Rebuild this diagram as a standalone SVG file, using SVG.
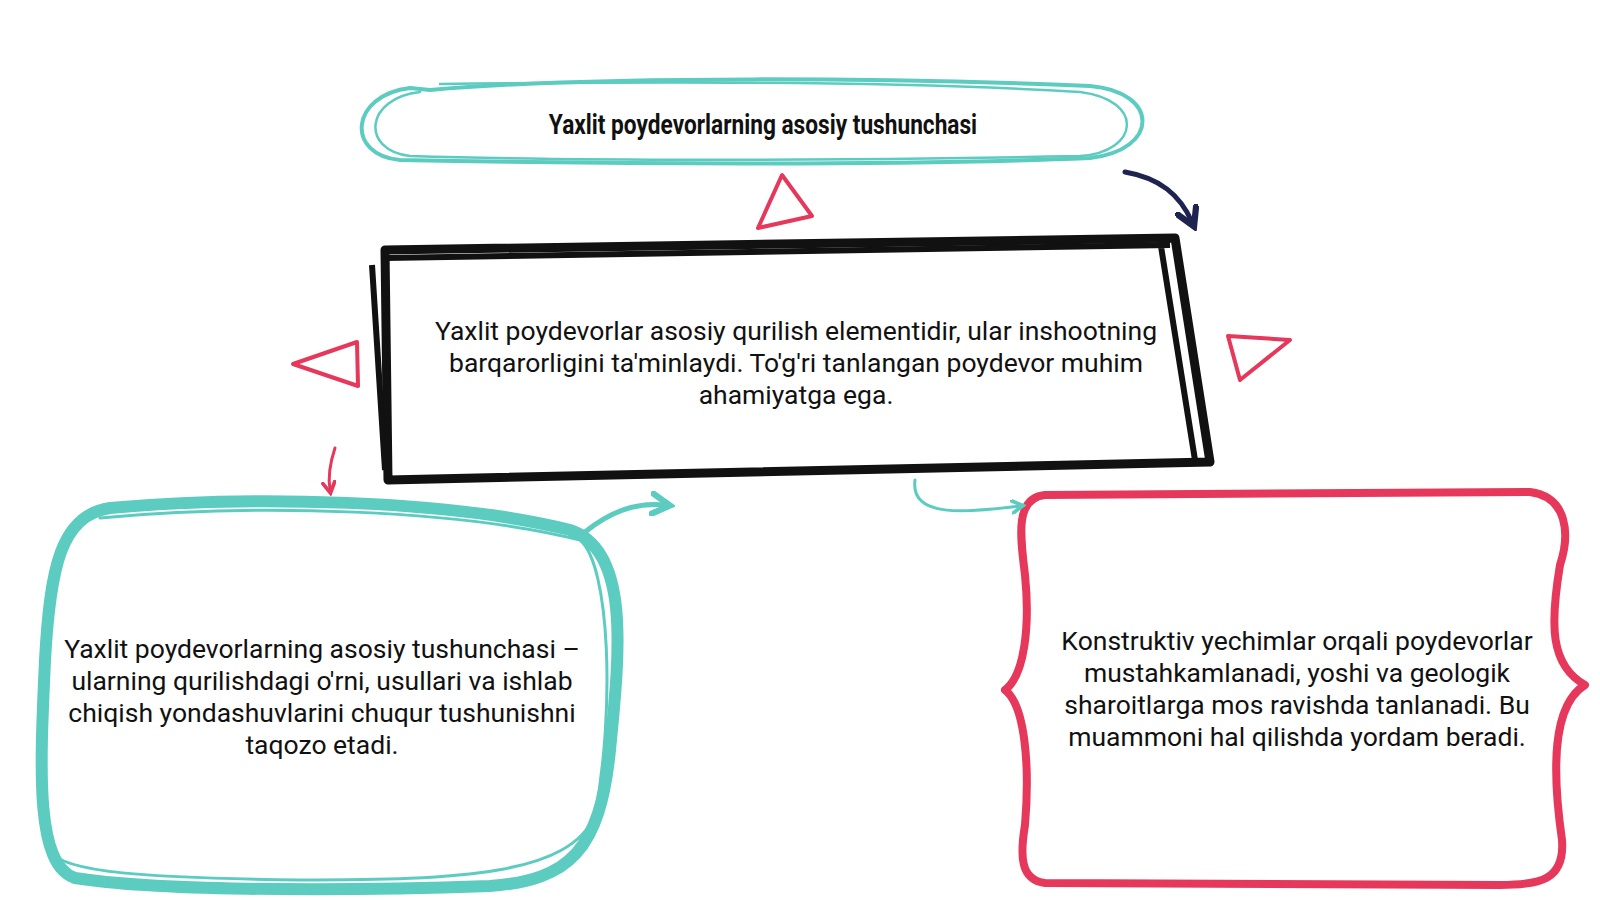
<svg xmlns="http://www.w3.org/2000/svg" width="1600" height="900" viewBox="0 0 1600 900">
<style>
.t{font-family:Roboto,"Liberation Sans",sans-serif;font-size:26.5px;fill:#111;text-anchor:middle}
.teal{fill:none;stroke:#5ccbc0;stroke-linecap:round;stroke-linejoin:round}
.red{fill:none;stroke:#e5385a;stroke-linecap:round;stroke-linejoin:round}
</style>
<defs>
<marker id="ah" viewBox="0 0 10 10" refX="6" refY="5" markerWidth="5" markerHeight="5" orient="auto"><path d="M1,1 L8,5 L1,9" fill="none" stroke="context-stroke" stroke-width="2.5" stroke-linecap="round"/></marker>
</defs>
<rect width="1600" height="900" fill="#fff"/>
<g id="title">
<path class="teal" stroke-width="4" d="M430,90 C600,75 900,78 1090,86 C1160,92 1160,150 1090,158 C900,166 600,164 400,160 C345,155 350,95 410,88 Z"/>
<path class="teal" stroke-width="2.5" d="M440,84 C620,82 880,80 1080,92 C1145,100 1140,152 1080,156 C880,160 600,162 410,156 C360,150 365,98 420,92"/>
<text x="763" y="134" style="font-family:Roboto,sans-serif;font-weight:700;font-size:27px;fill:#111;text-anchor:middle" transform="translate(763 0) scale(0.84 1) translate(-763 0)">Yaxlit poydevorlarning asosiy tushunchasi</text>
</g>
<g id="center">
<path fill="none" stroke="#111" stroke-width="9" stroke-linejoin="round" d="M385,250 L1175,238 L1210,462 L388,480 Z"/>
<path fill="none" stroke="#111" stroke-width="6" d="M372,265 L385,470 M1160,240 L1195,460 M385,258 L1170,245"/>
<text class="t" x="796" y="340">Yaxlit poydevorlar asosiy qurilish elementidir, ular inshootning</text>
<text class="t" x="796" y="372">barqarorligini ta'minlaydi. To'g'ri tanlangan poydevor muhim</text>
<text class="t" x="796" y="404">ahamiyatga ega.</text>
</g>
<g id="left">
<path class="teal" stroke-width="12" d="M110,508 C250,495 450,500 570,530 C630,550 620,650 610,750 C600,850 570,880 490,886 C320,892 150,890 75,878 C35,865 40,770 45,660 C50,570 60,515 110,508 Z"/>
<path class="teal" stroke-width="3" d="M100,518 C260,503 460,510 580,540 C610,565 615,710 595,815 C570,875 460,880 300,880 C150,878 60,873 50,850"/>
<text class="t" x="322" y="658">Yaxlit poydevorlarning asosiy tushunchasi –</text>
<text class="t" x="322" y="690">ularning qurilishdagi o'rni, usullari va ishlab</text>
<text class="t" x="322" y="722">chiqish yondashuvlarini chuqur tushunishni</text>
<text class="t" x="322" y="754">taqozo etadi.</text>
</g>
<g id="right">
<path class="red" stroke-width="8" d="M1045,495 L1530,492 C1568,497 1570,535 1560,565 C1550,625 1550,665 1585,685 C1552,705 1552,770 1562,840 C1565,880 1540,885 1500,885 L1045,883 C1020,880 1020,855 1025,825 C1030,765 1025,705 1005,690 C1025,675 1030,625 1025,575 C1020,535 1015,498 1045,495 Z"/>
<text class="t" x="1297" y="650">Konstruktiv yechimlar orqali poydevorlar</text>
<text class="t" x="1297" y="682">mustahkamlanadi, yoshi va geologik</text>
<text class="t" x="1297" y="714">sharoitlarga mos ravishda tanlanadi. Bu</text>
<text class="t" x="1297" y="746">muammoni hal qilishda yordam beradi.</text>
</g>
<g id="connectors">
<path d="M1125,172 C1160,178 1180,195 1192,222" fill="none" stroke="#1f2350" stroke-width="5" stroke-linecap="round" marker-end="url(#ah)"/>
<path d="M335,448 C330,463 328,478 330,490" fill="none" stroke="#e5385a" stroke-width="3" stroke-linecap="round" marker-end="url(#ah)"/>
<path d="M585,532 C610,512 635,502 665,505" fill="none" stroke="#5ccbc0" stroke-width="5" stroke-linecap="round" marker-end="url(#ah)"/>
<path d="M915,480 C910,518 965,513 1020,506" fill="none" stroke="#5ccbc0" stroke-width="3" stroke-linecap="round" marker-end="url(#ah)"/>
<path class="red" stroke-width="4" d="M782,175 L758,228 L812,216 Z"/>
<path class="red" stroke-width="4" d="M357,342 L293,364 L358,386 Z"/>
<path class="red" stroke-width="4" d="M1228,336 L1290,340 L1240,380 Z"/>
</g>
</svg>
